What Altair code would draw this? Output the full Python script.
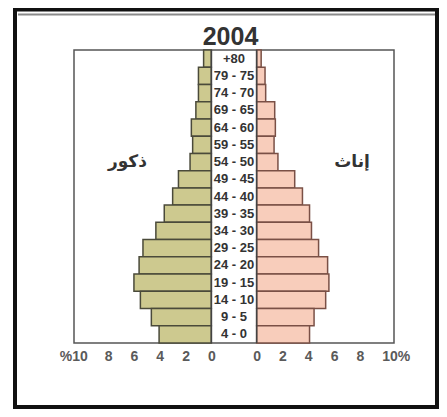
import altair as alt
import pandas as pd

# ---- data ----
year_title = ["2004"]
ages = ["+80", "79 - 75", "74 - 70", "69 - 65", "64 - 60", "59 - 55", "54 - 50",
        "49 - 45", "44 - 40", "39 - 35", "34 - 30", "29 - 25", "24 - 20",
        "19 - 15", "14 - 10", "9 - 5", "4 - 0"]
males = [0.6, 1.0, 1.0, 1.2, 1.55, 1.45, 1.65, 2.55, 3.0, 3.65, 4.3, 5.3, 5.6,
         6.0, 5.5, 4.65, 4.05]
females = [0.35, 0.65, 0.7, 1.4, 1.45, 1.35, 1.65, 2.95, 3.55, 4.1, 4.25, 4.8,
           5.5, 5.6, 5.35, 4.45, 4.1]
tick_values = [0, 2, 4, 6, 8, 10]
side_labels = ["ذكور", "إناث"]

# ---- layout constants ----
G = 1.755          # half-width of the central label column, in % units
DOM = 12.4
W, H = 320, 293

df = pd.DataFrame({"age": ages, "male": males, "female": females})
df["m0"] = -G - df["male"]
df["m1"] = -G
df["f0"] = G
df["f1"] = G + df["female"]

xscale = alt.Scale(domain=[-DOM, DOM], nice=False, zero=False)
yscale = alt.Scale(domain=ages, paddingInner=0, paddingOuter=0)

axis_vals = [-G - t for t in tick_values] + [G + t for t in tick_values]
label_expr = (
    f"datum.value < 0 ? (round(-datum.value - {G}) == 10 ? '%10' : format(round(-datum.value - {G}), 'd'))"
    f" : (round(datum.value - {G}) == 10 ? '10%' : format(round(datum.value - {G}), 'd'))"
)

x_axis = alt.Axis(
    values=axis_vals, labelExpr=label_expr, title=None, domain=False, ticks=False,
    grid=False, labelFont="Liberation Sans", labelFontSize=14, labelFontWeight="bold",
    labelColor="#5a5a5a", labelPadding=6, labelOverlap=False, labelFlush=False,
    labelBound=False,
    labelOffset={"condition": [{"test": "datum.value < -11", "value": -9},
                               {"test": "datum.value > 11", "value": 10}],
                 "value": 0},
)

base = alt.Chart(df)

male_bars = base.mark_bar(fill="#cdc98f", stroke="#4a4a3a", strokeWidth=1.5).encode(
    x=alt.X("m0:Q", scale=xscale, axis=x_axis),
    x2="m1:Q",
    y=alt.Y("age:N", scale=yscale, sort=ages, axis=None),
)
female_bars = base.mark_bar(fill="#f8cdbb", stroke="#7a5046", strokeWidth=1.5).encode(
    x=alt.X("f0:Q", scale=xscale, axis=x_axis),
    x2="f1:Q",
    y=alt.Y("age:N", scale=yscale, sort=ages, axis=None),
)

age_text = base.mark_text(font="Liberation Sans", fontSize=13, fontWeight="bold",
                          color="#333333").encode(
    x=alt.datum(0, axis=x_axis),
    y=alt.Y("age:N", scale=yscale, sort=ages, axis=None),
    text="age:N",
)

zero_rules = alt.Chart(pd.DataFrame({"z": [-G, G]})).mark_rule(
    color="#444444", strokeWidth=1.5).encode(x=alt.X("z:Q", scale=xscale, axis=x_axis))

side_df = pd.DataFrame({"label": side_labels, "x": [-8.26, 9.15], "age": ["54 - 50", "54 - 50"]})
side_text = alt.Chart(side_df).mark_text(font="DejaVu Sans", fontSize=17, fontWeight="bold",
                                         color="#333333").encode(
    x=alt.X("x:Q", scale=xscale, axis=x_axis),
    y=alt.Y("age:N", scale=yscale, sort=ages, axis=None),
    text="label:N",
)

title_text = alt.Chart(pd.DataFrame({"t": year_title})).mark_text(
    font="Liberation Sans", fontSize=25, fontWeight="bold", color="#333333",
    baseline="alphabetic", align="center").encode(
    x=alt.value(156.5), y=alt.value(-5), text="t:N")

one = alt.Data(values=[{"k": 1}])
outer_border = alt.Chart(one).mark_rect(fillOpacity=0, stroke="#111111", strokeWidth=4).encode(
    x=alt.value(-59), x2=alt.value(363), y=alt.value(-40.5), y2=alt.value(357))
top_line = alt.Chart(one).mark_rule(color="#8a8a8a", strokeWidth=2).encode(
    x=alt.value(-56), x2=alt.value(361), y=alt.value(-35.5))

chart = alt.layer(
    outer_border, top_line, male_bars, female_bars, zero_rules, age_text, side_text,
    title_text
).properties(
    width=W, height=H,
    padding={"left": 66, "top": 42, "right": 45, "bottom": 66},
    autosize=alt.AutoSizeParams(type="none"),
    background="white",
).configure_view(stroke="#555555", strokeWidth=1.5).configure_axisX(labelOverlap=False)

chart.save("out.html", embed_options={"renderer": "svg", "actions": False})
